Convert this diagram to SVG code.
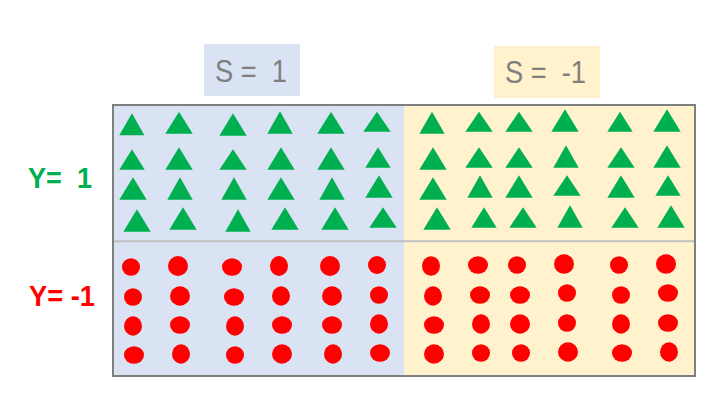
<svg xmlns="http://www.w3.org/2000/svg" width="724" height="420" viewBox="0 0 724 420">
<style>
.lbl{font-family:"Liberation Sans","DejaVu Sans",sans-serif;white-space:pre}
.s{font-size:31px;fill:#7f7f7f}
.y{font-size:29.5px;font-weight:bold}
.tri{fill:#00b050}
.dot{fill:#ff0000}
</style>
<rect width="724" height="420" fill="#ffffff"/>
<g id="header-s1">
<rect x="204" y="44" width="96" height="52" fill="#dae3f3"/>
<text class="lbl s" x="215" y="82" textLength="72" lengthAdjust="spacingAndGlyphs" xml:space="preserve">S =  1</text>
</g>
<g id="header-s-1">
<rect x="494" y="46" width="106" height="52" fill="#fff2cc"/>
<text class="lbl s" x="505" y="83" textLength="81" lengthAdjust="spacingAndGlyphs" xml:space="preserve">S =  -1</text>
</g>
<g id="label-y1">
<text class="lbl y" x="28" y="188" fill="#00b050" textLength="64" lengthAdjust="spacingAndGlyphs" xml:space="preserve">Y=  1</text>
</g>
<g id="label-y-1">
<text class="lbl y" x="29" y="306" fill="#ff0000" textLength="66" lengthAdjust="spacingAndGlyphs" xml:space="preserve">Y= -1</text>
</g>
<g id="grid">
<rect x="113" y="105" width="291" height="271" fill="#dae3f3"/>
<rect x="404" y="105" width="291" height="271" fill="#fff2cc"/>
<line x1="113" y1="241.3" x2="695" y2="241.3" stroke="#bfbfbf" stroke-width="2"/>
<rect x="113" y="105" width="582" height="271" fill="none" stroke="#7f7f7f" stroke-width="2"/>
</g>
<g id="triangles-s1">
<polygon class="tri" points="119.3,135.3 144.3,135.3 132,113.3"/>
<polygon class="tri" points="165.3,133.7 192.7,133.7 179,111.7"/>
<polygon class="tri" points="219.3,135.7 246.7,135.7 233,113.3"/>
<polygon class="tri" points="267.3,133.7 292.7,133.7 280,111.3"/>
<polygon class="tri" points="317.3,133.7 344.7,133.7 331,111.7"/>
<polygon class="tri" points="363.3,131.7 390.7,131.7 377,111.7"/>
<polygon class="tri" points="119.3,169.7 144.7,169.7 132,149.3"/>
<polygon class="tri" points="165.3,169.7 192.7,169.7 179,147.3"/>
<polygon class="tri" points="219.3,169.7 246.7,169.7 233,149.3"/>
<polygon class="tri" points="267.3,169.7 294.7,169.7 281,147.3"/>
<polygon class="tri" points="317.3,169.7 344.7,169.7 331,147.3"/>
<polygon class="tri" points="365.3,167.7 390.7,167.7 378,147.3"/>
<polygon class="tri" points="119.3,199.7 146.7,199.7 133,177.3"/>
<polygon class="tri" points="167.3,199.7 192.7,199.7 180,177.3"/>
<polygon class="tri" points="221.3,199.7 246.7,199.7 234,177.3"/>
<polygon class="tri" points="267.3,199.7 294.7,199.7 281,177.3"/>
<polygon class="tri" points="319.3,199.7 344.7,199.7 332,177.3"/>
<polygon class="tri" points="365.3,197.7 392.7,197.7 379,175.3"/>
<polygon class="tri" points="123.3,231.7 150.7,231.7 137,209.3"/>
<polygon class="tri" points="169.3,229.7 196.7,229.7 183,207.3"/>
<polygon class="tri" points="225.3,231.7 250.7,231.7 238,209.3"/>
<polygon class="tri" points="271.3,229.7 298.7,229.7 285,207.3"/>
<polygon class="tri" points="321.3,229.7 348.7,229.7 335,207.3"/>
<polygon class="tri" points="369.3,227.7 396.7,227.7 383,207.3"/>
</g>
<g id="triangles-s-1">
<polygon class="tri" points="419.3,133.7 444.7,133.7 432,111.7"/>
<polygon class="tri" points="465.3,131.7 492.7,131.7 479,111.7"/>
<polygon class="tri" points="505.3,131.7 532.7,131.7 519,111.7"/>
<polygon class="tri" points="551.3,131.7 578.7,131.7 565,109.3"/>
<polygon class="tri" points="607.3,131.7 632.7,131.7 620,111.7"/>
<polygon class="tri" points="653.3,131.7 680.7,131.7 667,109.3"/>
<polygon class="tri" points="419.3,169.7 446.7,169.7 433,147.3"/>
<polygon class="tri" points="465.3,167.7 492.7,167.7 479,147.3"/>
<polygon class="tri" points="505.3,167.7 532.7,167.7 519,147.3"/>
<polygon class="tri" points="553.3,167.7 578.7,167.7 566,145.3"/>
<polygon class="tri" points="607.3,167.7 634.7,167.7 621,147.3"/>
<polygon class="tri" points="653.3,167.7 680.7,167.7 667,145.3"/>
<polygon class="tri" points="419.3,199.7 446.7,199.7 433,177.3"/>
<polygon class="tri" points="467.3,197.7 492.7,197.7 480,175.3"/>
<polygon class="tri" points="505.3,197.7 532.7,197.7 519,175.3"/>
<polygon class="tri" points="553.3,195.7 580.7,195.7 567,175.3"/>
<polygon class="tri" points="607.3,197.7 634.7,197.7 621,175.3"/>
<polygon class="tri" points="655.3,195.7 680.7,195.7 668,175.3"/>
<polygon class="tri" points="423.3,229.7 450.7,229.7 437,207.3"/>
<polygon class="tri" points="471.3,227.7 496.7,227.7 484,207.3"/>
<polygon class="tri" points="509.3,227.7 536.7,227.7 523,207.3"/>
<polygon class="tri" points="557.3,227.7 582.7,227.7 570,205.3"/>
<polygon class="tri" points="611.3,227.7 638.7,227.7 625,207.3"/>
<polygon class="tri" points="657.3,227.7 684.7,227.7 671,205.3"/>
</g>
<g id="dots-s1">
<ellipse class="dot" cx="131" cy="267" rx="9" ry="8.7"/>
<ellipse class="dot" cx="178" cy="266" rx="10" ry="10"/>
<ellipse class="dot" cx="232" cy="267" rx="10" ry="8.7"/>
<ellipse class="dot" cx="279" cy="266" rx="9" ry="10"/>
<ellipse class="dot" cx="330" cy="266" rx="10" ry="10"/>
<ellipse class="dot" cx="377" cy="265" rx="9" ry="9"/>
<ellipse class="dot" cx="133" cy="297" rx="9" ry="8.7"/>
<ellipse class="dot" cx="180" cy="296" rx="10" ry="9.7"/>
<ellipse class="dot" cx="234" cy="297" rx="10" ry="8.7"/>
<ellipse class="dot" cx="281" cy="296" rx="9" ry="9.7"/>
<ellipse class="dot" cx="332" cy="296" rx="10" ry="9.7"/>
<ellipse class="dot" cx="379" cy="295" rx="9" ry="8.7"/>
<ellipse class="dot" cx="133" cy="326" rx="9" ry="9.7"/>
<ellipse class="dot" cx="180" cy="325" rx="10" ry="8.7"/>
<ellipse class="dot" cx="235" cy="326" rx="9" ry="9.7"/>
<ellipse class="dot" cx="282" cy="325" rx="10" ry="8.7"/>
<ellipse class="dot" cx="332" cy="325" rx="10" ry="8.7"/>
<ellipse class="dot" cx="379" cy="324" rx="9" ry="9.7"/>
<ellipse class="dot" cx="134" cy="355" rx="10" ry="8.7"/>
<ellipse class="dot" cx="181" cy="354" rx="9" ry="9.7"/>
<ellipse class="dot" cx="235" cy="355" rx="9" ry="8.7"/>
<ellipse class="dot" cx="282" cy="354" rx="10" ry="9.7"/>
<ellipse class="dot" cx="333" cy="354" rx="9" ry="9.7"/>
<ellipse class="dot" cx="380" cy="353" rx="10" ry="8.7"/>
</g>
<g id="dots-s-1">
<ellipse class="dot" cx="431" cy="266" rx="9" ry="9.8"/>
<ellipse class="dot" cx="478" cy="265" rx="10" ry="8.8"/>
<ellipse class="dot" cx="517" cy="265" rx="9" ry="8.8"/>
<ellipse class="dot" cx="564" cy="264" rx="10" ry="9.8"/>
<ellipse class="dot" cx="619" cy="265" rx="9" ry="8.8"/>
<ellipse class="dot" cx="666" cy="264" rx="10" ry="9.8"/>
<ellipse class="dot" cx="433" cy="296" rx="9" ry="9.7"/>
<ellipse class="dot" cx="480" cy="295" rx="10" ry="8.7"/>
<ellipse class="dot" cx="520" cy="295" rx="10" ry="8.7"/>
<ellipse class="dot" cx="567" cy="293" rx="9" ry="8.7"/>
<ellipse class="dot" cx="621" cy="295" rx="9" ry="8.7"/>
<ellipse class="dot" cx="668" cy="293" rx="10" ry="8.7"/>
<ellipse class="dot" cx="434" cy="325" rx="10" ry="8.7"/>
<ellipse class="dot" cx="481" cy="324" rx="9" ry="9.7"/>
<ellipse class="dot" cx="520" cy="324" rx="10" ry="9.7"/>
<ellipse class="dot" cx="567" cy="323" rx="9" ry="8.7"/>
<ellipse class="dot" cx="621" cy="324" rx="9" ry="9.7"/>
<ellipse class="dot" cx="668" cy="323" rx="10" ry="8.7"/>
<ellipse class="dot" cx="434" cy="354" rx="10" ry="9.7"/>
<ellipse class="dot" cx="481" cy="353" rx="9" ry="8.7"/>
<ellipse class="dot" cx="521" cy="353" rx="9" ry="8.7"/>
<ellipse class="dot" cx="568" cy="352" rx="10" ry="9.7"/>
<ellipse class="dot" cx="622" cy="353" rx="10" ry="8.7"/>
<ellipse class="dot" cx="669" cy="352" rx="9" ry="9.7"/>
</g>
</svg>
